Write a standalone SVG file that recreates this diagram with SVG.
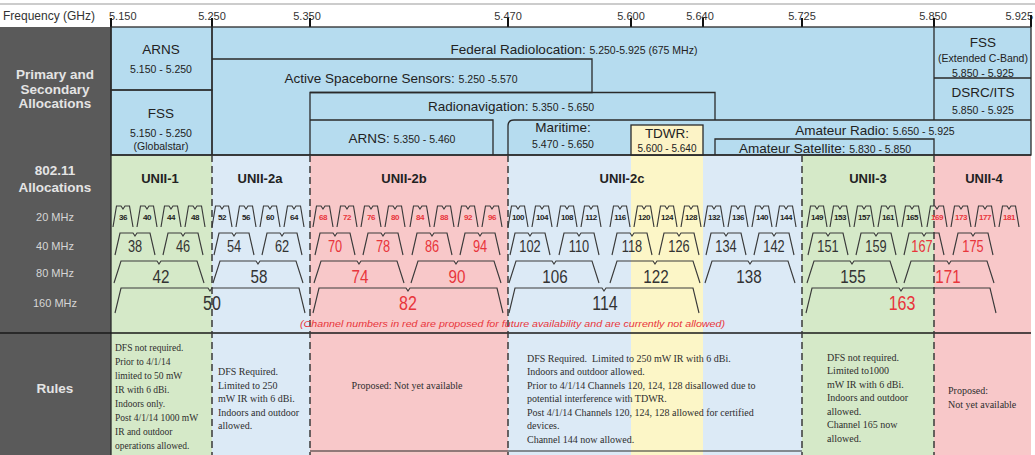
<svg xmlns="http://www.w3.org/2000/svg" width="1035" height="455" viewBox="0 0 1035 455">
<style>
text{font-family:"Liberation Sans",Arial,sans-serif}
.ax{font-size:11px;fill:#333}
.tick{stroke:#111;stroke-width:2}
.ln{fill:none;stroke:#2a2a2a;stroke-width:1.3}
.t1{font-size:13.5px;fill:#222;text-anchor:middle}
.n{font-size:10.5px}
.sm{font-size:10.5px;fill:#222;text-anchor:middle}
.lab{font-size:13.5px;font-weight:bold;fill:#e4e4e4;text-anchor:middle}
.rl{font-size:11px;fill:#d6d6d6;text-anchor:middle}
.unii{font-size:13px;font-weight:bold;fill:#222;text-anchor:middle}
.tr{fill:none;stroke:#3a3a3a;stroke-width:1.15}
.c20{font-size:8px;font-weight:bold;fill:#222;text-anchor:middle;letter-spacing:-0.4px}
.c40{font-size:16px;fill:#333;text-anchor:middle}
.c80{font-size:19px;fill:#333;text-anchor:middle}
.c160{font-size:20px;fill:#333;text-anchor:middle}
.red{fill:#e8353b}
.dash{stroke:#3a3a3a;stroke-width:1.5;stroke-dasharray:7 4}
.rule{font-family:"Liberation Serif","Times New Roman",serif;font-size:10px;fill:#2e2e2e}
.r1{font-size:9.5px}
.note{font-size:9.5px;font-style:italic;fill:#e8353b}
</style>
<defs>
<path id="t20" class="tr" d="M-10,21 L-6.5,0 H-2 L0,3 L2,0 H6.5 L10,21"/>
<path id="t40" class="tr" d="M-20,22 L-15,0 H-2 L0,3 L2,0 H15 L20,22"/>
<path id="t80" class="tr" d="M-45,22 L-38,0 H-2 L0,3 L2,0 H38 L45,22"/>
<path id="t160" class="tr" d="M-95,25 L-89,0 H-2 L0,3 L2,0 H89 L95,25"/>
</defs>
<rect width="1035" height="455" fill="#fff"/>

<g id="axis">
<line x1="0" y1="4" x2="1035" y2="4" stroke="#999" stroke-width="1"/>
<text class="ax" x="3" y="20" style="font-size:12px">Frequency (GHz)</text>
<text class="ax" x="109" y="20">5.150</text>
<text class="ax" x="212" y="20" text-anchor="middle">5.250</text>
<text class="ax" x="307" y="20" text-anchor="middle">5.350</text>
<text class="ax" x="508" y="20" text-anchor="middle">5.470</text>
<text class="ax" x="631" y="20" text-anchor="middle">5.600</text>
<text class="ax" x="700" y="20" text-anchor="middle">5.640</text>
<text class="ax" x="802" y="20" text-anchor="middle">5.725</text>
<text class="ax" x="933" y="20" text-anchor="middle">5.850</text>
<text class="ax" x="1033" y="20" text-anchor="end">5.925</text>
<g class="tick">
<line x1="111" y1="18" x2="111" y2="27"/><line x1="212" y1="18" x2="212" y2="27"/>
<line x1="310" y1="18" x2="310" y2="27"/><line x1="508" y1="18" x2="508" y2="27"/>
<line x1="631" y1="18" x2="631" y2="27"/><line x1="703" y1="18" x2="703" y2="27"/>
<line x1="802" y1="18" x2="802" y2="27"/><line x1="934" y1="18" x2="934" y2="27"/>
<line x1="1031" y1="15" x2="1031" y2="27"/>
</g>
</g>

<g id="backgrounds">
<rect x="0" y="27" width="111" height="428" fill="#5a5a5a"/>
<rect x="111" y="27" width="920" height="128" fill="#b6dcef"/>
<rect x="111" y="155" width="101" height="300" fill="#d5e9c8"/>
<rect x="212" y="155" width="98" height="300" fill="#dceaf6"/>
<rect x="310" y="155" width="198" height="300" fill="#f8c8c9"/>
<rect x="508" y="155" width="123" height="300" fill="#dceaf6"/>
<rect x="631" y="155" width="72" height="300" fill="#fcf6c7"/>
<rect x="703" y="155" width="99" height="300" fill="#dceaf6"/>
<rect x="802" y="155" width="132" height="300" fill="#d5e9c8"/>
<rect x="934" y="155" width="97" height="300" fill="#f8c8c9"/>
</g>

<g id="row-labels">
<text class="lab" x="55" y="79">Primary and</text>
<text class="lab" x="55" y="94">Secondary</text>
<text class="lab" x="55" y="108">Allocations</text>
<text class="lab" x="55" y="175">802.11</text>
<text class="lab" x="55" y="192">Allocations</text>
<text class="rl" x="55" y="221">20 MHz</text>
<text class="rl" x="55" y="250">40 MHz</text>
<text class="rl" x="55" y="277">80 MHz</text>
<text class="rl" x="55" y="307">160 MHz</text>
<text class="lab" x="55" y="393">Rules</text>
</g>

<g id="alloc-arns">
<rect class="ln" x="111" y="27" width="101" height="63"/>
<text class="t1" x="161" y="54">ARNS</text>
<text class="sm" x="161" y="73">5.150 - 5.250</text>
</g>
<g id="alloc-fss">
<rect class="ln" x="111" y="90" width="101" height="65"/>
<text class="t1" x="161" y="118">FSS</text>
<text class="sm" x="161" y="137">5.150 - 5.250</text>
<text class="sm" x="161" y="150">(Globalstar)</text>
</g>
<g id="alloc-federal">
<rect class="ln" x="212" y="27" width="819" height="128"/>
<text class="t1" x="574" y="54">Federal Radiolocation: <tspan class="n">5.250-5.925 (675 MHz)</tspan></text>
</g>
<g id="alloc-active">
<path class="ln" d="M212,59 H592 V92.5 H310"/>
<text class="t1" x="401" y="83">Active Spaceborne Sensors: <tspan class="n">5.250 -5.570</tspan></text>
</g>
<g id="alloc-radionav">
<path class="ln" d="M310,155 V92.5 H715 V120"/>
<text class="t1" x="511" y="111">Radionavigation: <tspan class="n">5.350 - 5.650</tspan></text>
</g>
<g id="alloc-arns2">
<path class="ln" d="M310,120 H493 V155"/>
<text class="t1" x="402" y="143">ARNS: <tspan class="n">5.350 - 5.460</tspan></text>
</g>
<g id="alloc-maritime">
<path class="ln" d="M508,155 V126 Q508,120 514,120 H1031"/>
<text class="t1" x="563" y="132">Maritime:</text>
<text class="sm" x="563" y="148">5.470 - 5.650</text>
</g>
<g id="alloc-tdwr">
<rect x="631" y="125" width="72" height="30" fill="#fcf3c6" stroke="#2a2a2a" stroke-width="1.3"/>
<text class="t1" x="667" y="138">TDWR:</text>
<text class="sm" x="667" y="152" style="font-size:10px">5.600 - 5.640</text>
</g>
<g id="alloc-amateur">
<text class="t1" x="875" y="135">Amateur Radio: <tspan class="n">5.650 - 5.925</tspan></text>
</g>
<g id="alloc-amsat">
<path class="ln" d="M715,155 V139 H934 V155"/>
<text class="t1" x="825" y="153">Amateur Satellite: <tspan class="n">5.830 - 5.850</tspan></text>
</g>
<g id="alloc-fss-ext">
<path class="ln" d="M934,27 V120 M934,78 H1031"/>
<text class="t1" x="983" y="47">FSS</text>
<text class="sm" x="983" y="62">(Extended C-Band)</text>
<text class="sm" x="983" y="77">5.850 - 5.925</text>
</g>
<g id="alloc-dsrc">
<text class="t1" x="983" y="97">DSRC/ITS</text>
<text class="sm" x="983" y="114">5.850 - 5.925</text>
</g>

<g id="dividers">
<line class="ln" x1="111" y1="27" x2="111" y2="455"/>
<line class="ln" x1="111" y1="155" x2="1031" y2="155"/>
<line x1="0" y1="333" x2="1031" y2="333" stroke="#1a1a1a" stroke-width="1.4"/>
<line x1="310" y1="451" x2="802" y2="451" stroke="#2a2a2a" stroke-width="1.2"/>
<g class="dash">
<line x1="212" y1="155" x2="212" y2="455"/>
<line x1="310" y1="155" x2="310" y2="455"/>
<line x1="508" y1="155" x2="508" y2="455"/>
<line x1="802" y1="155" x2="802" y2="455"/>
<line x1="934" y1="155" x2="934" y2="455"/>
</g>
</g>

<g id="unii-labels">
<text class="unii" x="160" y="183">UNII-1</text>
<text class="unii" x="260" y="183">UNII-2a</text>
<text class="unii" x="404" y="183">UNII-2b</text>
<text class="unii" x="622" y="183">UNII-2c</text>
<text class="unii" x="868" y="183">UNII-3</text>
<text class="unii" x="984" y="183">UNII-4</text>
</g>

<g id="ch20">
<use href="#t20" x="123" y="206"/><text class="c20" x="123" y="220">36</text>
<use href="#t20" x="147" y="206"/><text class="c20" x="147" y="220">40</text>
<use href="#t20" x="171" y="206"/><text class="c20" x="171" y="220">44</text>
<use href="#t20" x="195" y="206"/><text class="c20" x="195" y="220">48</text>
<use href="#t20" x="222" y="206"/><text class="c20" x="222" y="220">52</text>
<use href="#t20" x="246" y="206"/><text class="c20" x="246" y="220">56</text>
<use href="#t20" x="270" y="206"/><text class="c20" x="270" y="220">60</text>
<use href="#t20" x="294" y="206"/><text class="c20" x="294" y="220">64</text>
<use href="#t20" x="323" y="206"/><text class="c20 red" x="323" y="220">68</text>
<use href="#t20" x="347" y="206"/><text class="c20 red" x="347" y="220">72</text>
<use href="#t20" x="371" y="206"/><text class="c20 red" x="371" y="220">76</text>
<use href="#t20" x="395" y="206"/><text class="c20 red" x="395" y="220">80</text>
<use href="#t20" x="420" y="206"/><text class="c20 red" x="420" y="220">84</text>
<use href="#t20" x="444" y="206"/><text class="c20 red" x="444" y="220">88</text>
<use href="#t20" x="468" y="206"/><text class="c20 red" x="468" y="220">92</text>
<use href="#t20" x="492" y="206"/><text class="c20 red" x="492" y="220">96</text>
<use href="#t20" x="518" y="206"/><text class="c20" x="518" y="220">100</text>
<use href="#t20" x="542" y="206"/><text class="c20" x="542" y="220">104</text>
<use href="#t20" x="567" y="206"/><text class="c20" x="567" y="220">108</text>
<use href="#t20" x="591" y="206"/><text class="c20" x="591" y="220">112</text>
<use href="#t20" x="620" y="206"/><text class="c20" x="620" y="220">116</text>
<use href="#t20" x="644" y="206"/><text class="c20" x="644" y="220">120</text>
<use href="#t20" x="667" y="206"/><text class="c20" x="667" y="220">124</text>
<use href="#t20" x="691" y="206"/><text class="c20" x="691" y="220">128</text>
<use href="#t20" x="714" y="206"/><text class="c20" x="714" y="220">132</text>
<use href="#t20" x="738" y="206"/><text class="c20" x="738" y="220">136</text>
<use href="#t20" x="762" y="206"/><text class="c20" x="762" y="220">140</text>
<use href="#t20" x="786" y="206"/><text class="c20" x="786" y="220">144</text>
<use href="#t20" x="817" y="206"/><text class="c20" x="817" y="220">149</text>
<use href="#t20" x="840" y="206"/><text class="c20" x="840" y="220">153</text>
<use href="#t20" x="864" y="206"/><text class="c20" x="864" y="220">157</text>
<use href="#t20" x="888" y="206"/><text class="c20" x="888" y="220">161</text>
<use href="#t20" x="912" y="206"/><text class="c20" x="912" y="220">165</text>
<use href="#t20" x="937" y="206"/><text class="c20 red" x="937" y="220">169</text>
<use href="#t20" x="961" y="206"/><text class="c20 red" x="961" y="220">173</text>
<use href="#t20" x="985" y="206"/><text class="c20 red" x="985" y="220">177</text>
<use href="#t20" x="1009" y="206"/><text class="c20 red" x="1009" y="220">181</text>
</g>

<g id="ch40">
<use href="#t40" x="135" y="233"/><text class="c40" transform="translate(135 252) scale(.8 1)">38</text>
<use href="#t40" x="183" y="233"/><text class="c40" transform="translate(183 252) scale(.8 1)">46</text>
<use href="#t40" x="234" y="233"/><text class="c40" transform="translate(234 252) scale(.8 1)">54</text>
<use href="#t40" x="282" y="233"/><text class="c40" transform="translate(282 252) scale(.8 1)">62</text>
<use href="#t40" x="335" y="233"/><text class="c40 red" transform="translate(335 252) scale(.8 1)">70</text>
<use href="#t40" x="383" y="233"/><text class="c40 red" transform="translate(383 252) scale(.8 1)">78</text>
<use href="#t40" x="432" y="233"/><text class="c40 red" transform="translate(432 252) scale(.8 1)">86</text>
<use href="#t40" x="480" y="233"/><text class="c40 red" transform="translate(480 252) scale(.8 1)">94</text>
<use href="#t40" x="530" y="233"/><text class="c40" transform="translate(530 252) scale(.8 1)">102</text>
<use href="#t40" x="579" y="233"/><text class="c40" transform="translate(579 252) scale(.8 1)">110</text>
<use href="#t40" x="632" y="233"/><text class="c40" transform="translate(632 252) scale(.8 1)">118</text>
<use href="#t40" x="679" y="233"/><text class="c40" transform="translate(679 252) scale(.8 1)">126</text>
<use href="#t40" x="726" y="233"/><text class="c40" transform="translate(726 252) scale(.8 1)">134</text>
<use href="#t40" x="774" y="233"/><text class="c40" transform="translate(774 252) scale(.8 1)">142</text>
<use href="#t40" x="828" y="233"/><text class="c40" transform="translate(828 252) scale(.8 1)">151</text>
<use href="#t40" x="876" y="233"/><text class="c40" transform="translate(876 252) scale(.8 1)">159</text>
<use href="#t40" x="924" y="233"/><text class="c40 red" transform="translate(922 252) scale(.8 1)">167</text>
<use href="#t40" x="973" y="233"/><text class="c40 red" transform="translate(973 252) scale(.8 1)">175</text>
</g>

<g id="ch80">
<use href="#t80" x="159" y="261"/><text class="c80" transform="translate(161 283) scale(.8 1)">42</text>
<use href="#t80" x="258" y="261"/><text class="c80" transform="translate(259 283) scale(.8 1)">58</text>
<use href="#t80" x="359" y="261"/><text class="c80 red" transform="translate(360 283) scale(.8 1)">74</text>
<use href="#t80" x="456" y="261"/><text class="c80 red" transform="translate(457 283) scale(.8 1)">90</text>
<use href="#t80" x="554" y="261"/><text class="c80" transform="translate(555 283) scale(.8 1)">106</text>
<use href="#t80" x="655" y="261"/><text class="c80" transform="translate(656 283) scale(.8 1)">122</text>
<use href="#t80" x="750" y="261"/><text class="c80" transform="translate(749 283) scale(.8 1)">138</text>
<use href="#t80" x="852" y="261"/><text class="c80" transform="translate(853 283) scale(.8 1)">155</text>
<use href="#t80" x="949" y="261"/><text class="c80 red" transform="translate(948 283) scale(.8 1)">171</text>
</g>

<g id="ch160">
<use href="#t160" x="210" y="288"/><text class="c160" transform="translate(212 310) scale(.8 1)">50</text>
<use href="#t160" x="408" y="288"/><text class="c160 red" transform="translate(408 310) scale(.8 1)">82</text>
<use href="#t160" x="604" y="288"/><text class="c160" transform="translate(605 310) scale(.8 1)">114</text>
<use href="#t160" x="901" y="288"/><text class="c160 red" transform="translate(902 310) scale(.8 1)">163</text>
</g>

<text class="note" x="300" y="327" textLength="425" lengthAdjust="spacingAndGlyphs">(Channel numbers in red are proposed for future availability and are currently not allowed)</text>

<g id="rules-unii1">
<text class="rule r1" x="115" y="351">DFS not required.</text>
<text class="rule r1" x="115" y="365">Prior to 4/1/14</text>
<text class="rule r1" x="115" y="379">limited to 50 mW</text>
<text class="rule r1" x="115" y="393">IR with 6 dBi.</text>
<text class="rule r1" x="115" y="407">Indoors only.</text>
<text class="rule r1" x="115" y="421">Post 4/1/14 1000 mW</text>
<text class="rule r1" x="115" y="435">IR and outdoor</text>
<text class="rule r1" x="115" y="449">operations allowed.</text>
</g>
<g id="rules-unii2a">
<text class="rule" x="218" y="375">DFS Required.</text>
<text class="rule" x="218" y="388.5">Limited to 250</text>
<text class="rule" x="218" y="402">mW IR with 6 dBi.</text>
<text class="rule" x="218" y="415.5">Indoors and outdoor</text>
<text class="rule" x="218" y="429">allowed.</text>
</g>
<g id="rules-unii2b">
<text class="rule" x="407" y="388.5" text-anchor="middle">Proposed: Not yet available</text>
</g>
<g id="rules-unii2c">
<text class="rule" x="527" y="361.5">DFS Required.&#160; Limited to 250 mW IR with 6 dBi.</text>
<text class="rule" x="527" y="375">Indoors and outdoor allowed.</text>
<text class="rule" x="527" y="388.5">Prior to 4/1/14 Channels 120, 124, 128 disallowed due to</text>
<text class="rule" x="527" y="402">potential interference with TDWR.</text>
<text class="rule" x="527" y="415.5">Post 4/1/14 Channels 120, 124, 128 allowed for certified</text>
<text class="rule" x="527" y="429">devices.</text>
<text class="rule" x="527" y="442.5">Channel 144 now allowed.</text>
</g>
<g id="rules-unii3">
<text class="rule" x="827" y="360.5">DFS not required.</text>
<text class="rule" x="827" y="374">Limited to1000</text>
<text class="rule" x="827" y="387.5">mW IR with 6 dBi.</text>
<text class="rule" x="827" y="401">Indoors and outdoor</text>
<text class="rule" x="827" y="414.5">allowed.</text>
<text class="rule" x="827" y="428">Channel 165 now</text>
<text class="rule" x="827" y="441.5">allowed.</text>
</g>
<g id="rules-unii4">
<text class="rule" x="948" y="393.5">Proposed:</text>
<text class="rule" x="948" y="407.5">Not yet available</text>
</g>
</svg>
